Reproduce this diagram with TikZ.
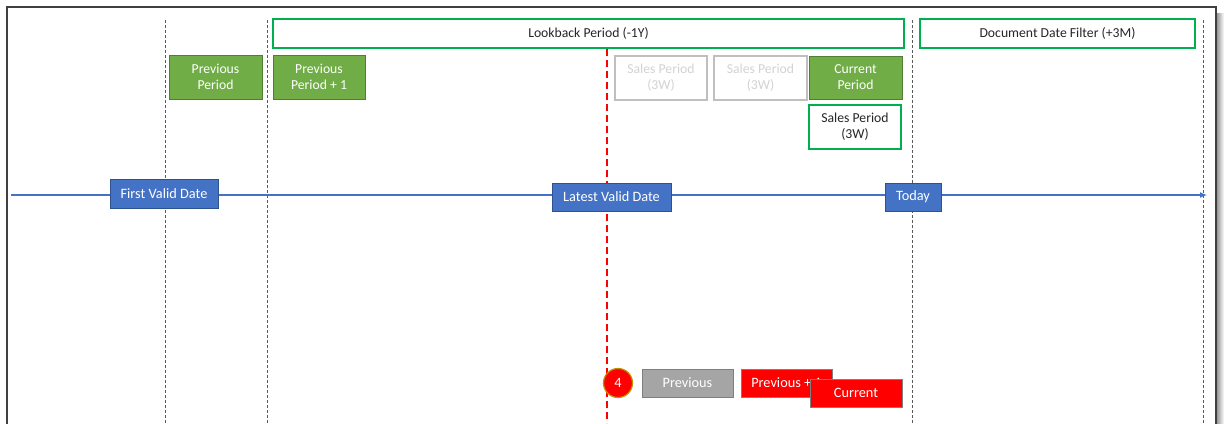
\documentclass[tikz,border=0pt]{standalone}
\usepackage{fontspec}
\setmainfont{Carlito}
\usetikzlibrary{arrows.meta}
\definecolor{grnB}{HTML}{00B050}
\definecolor{grnF}{HTML}{70AD47}
\definecolor{grnD}{HTML}{507E32}
\definecolor{bluF}{HTML}{4472C4}
\definecolor{bluD}{HTML}{2F528F}
\definecolor{ltB}{HTML}{BFBFBF}
\definecolor{ltT}{HTML}{D3D3D3}
\definecolor{gryF}{HTML}{A5A5A5}
\definecolor{gryD}{HTML}{7F7F7F}
\definecolor{redF}{HTML}{FF0000}
\definecolor{gold}{HTML}{BF9000}
\definecolor{frm}{HTML}{404040}
\definecolor{dsh}{HTML}{595959}
\begin{document}
\begin{tikzpicture}[x=1pt,y=-1pt,
  every node/.style={inner sep=0pt, outer sep=0pt, align=center, font=\fontsize{13.7}{16}\selectfont},
  gbox/.style={draw=grnB, line width=1.6pt, fill=white, text=black!85},
  gfill/.style={draw=grnD, line width=1pt, fill=grnF, text=white},
  lbox/.style={draw=ltB, line width=1.4pt, fill=white, text=ltT},
  bbox/.style={draw=bluD, line width=1pt, fill=bluF, text=white, font=\fontsize{14.3}{16}\selectfont},
  rbox/.style={draw=gryD, line width=1pt, fill=redF, text=white, font=\fontsize{14.3}{16}\selectfont},
  gybox/.style={draw=gryD, line width=1pt, fill=gryF, text=white, font=\fontsize{14.3}{16}\selectfont},
  vdash/.style={draw=dsh, line width=0.9pt, dash pattern=on 3pt off 2pt},
  rdash/.style={draw=redF, line width=1.5pt, dash pattern=on 7pt off 4pt},
  axis/.style={draw=bluF, line width=1.2pt, -{Latex[length=7pt,width=6pt]}}
]
\useasboundingbox (0,0) rectangle (1226,423);
% frame and shadow
\shade[left color=black!45, right color=white] (1216,13) rectangle (1224,430);
\draw[frm, line width=1.3pt, fill=white] (7,7) rectangle (1216,440);

% vertical guide coordinates
\coordinate (v1t) at (165,20);  \coordinate (v1b) at (165,423);
\coordinate (v2t) at (267,20);  \coordinate (v2b) at (267,423);
\coordinate (v3t) at (912,20);  \coordinate (v3b) at (912,423);
\coordinate (v4t) at (1203,20); \coordinate (v4b) at (1203,423);
\coordinate (rt) at (607,49);   \coordinate (rb) at (607,423);
\coordinate (axL) at (11,195);  \coordinate (axR) at (1207,195);

\draw[vdash] (v1t) -- (v1b);
\draw[vdash] (v2t) -- (v2b);
\draw[vdash] (v3t) -- (v3b);
\draw[vdash] (v4t) -- (v4b);
\draw[axis] (axL) -- (axR);
\draw[rdash] (rt) -- (rb);

% top boxes
\node[gbox, minimum width=631pt, minimum height=29pt] (look) at (588.5,33.5) {Lookback Period (-1Y)};
\node[gbox, minimum width=275pt, minimum height=29pt] (doc) at (1057.5,33.5) {Document Date Filter (+3M)};

\node[gfill, minimum width=93pt, minimum height=44pt] (pp) at (215.5,77) {Previous\\Period};
\node[gfill, minimum width=92pt, minimum height=44pt] (pp1) at (319,77) {Previous\\Period + 1};
\node[lbox, minimum width=92pt, minimum height=44pt] (sp1) at (661,78) {Sales Period\\(3W)};
\node[lbox, minimum width=93pt, minimum height=44pt] (sp2) at (760.5,78) {Sales Period\\(3W)};
\node[gfill, minimum width=93pt, minimum height=43pt] (cp) at (855.5,77.5) {Current\\Period};
\node[gbox, minimum width=92pt, minimum height=44pt] (sp3) at (855,127) {Sales Period\\(3W)};

% axis labels
\node[bbox, minimum width=108pt, minimum height=29pt] (fvd) at (164,193.5) {First Valid Date};
\node[bbox, minimum width=119pt, minimum height=28pt] (lvd) at (611.5,197) {Latest Valid Date};
\node[bbox, minimum width=56pt, minimum height=28pt] (tod) at (913,197) {Today};

% bottom
\node[circle, draw=gold, line width=1.2pt, fill=redF, text=white, minimum size=29pt, font=\fontsize{14.3}{16}\selectfont] (four) at (618,383) {4};
\node[gybox, minimum width=91pt, minimum height=28pt] (prv) at (687.5,383) {Previous};
\node[rbox, minimum width=91pt, minimum height=28pt] (prv1) at (786.5,383) {Previous + 1};
\node[rbox, minimum width=92pt, minimum height=28pt] (cur) at (856,393) {Current};
\end{tikzpicture}
\end{document}
